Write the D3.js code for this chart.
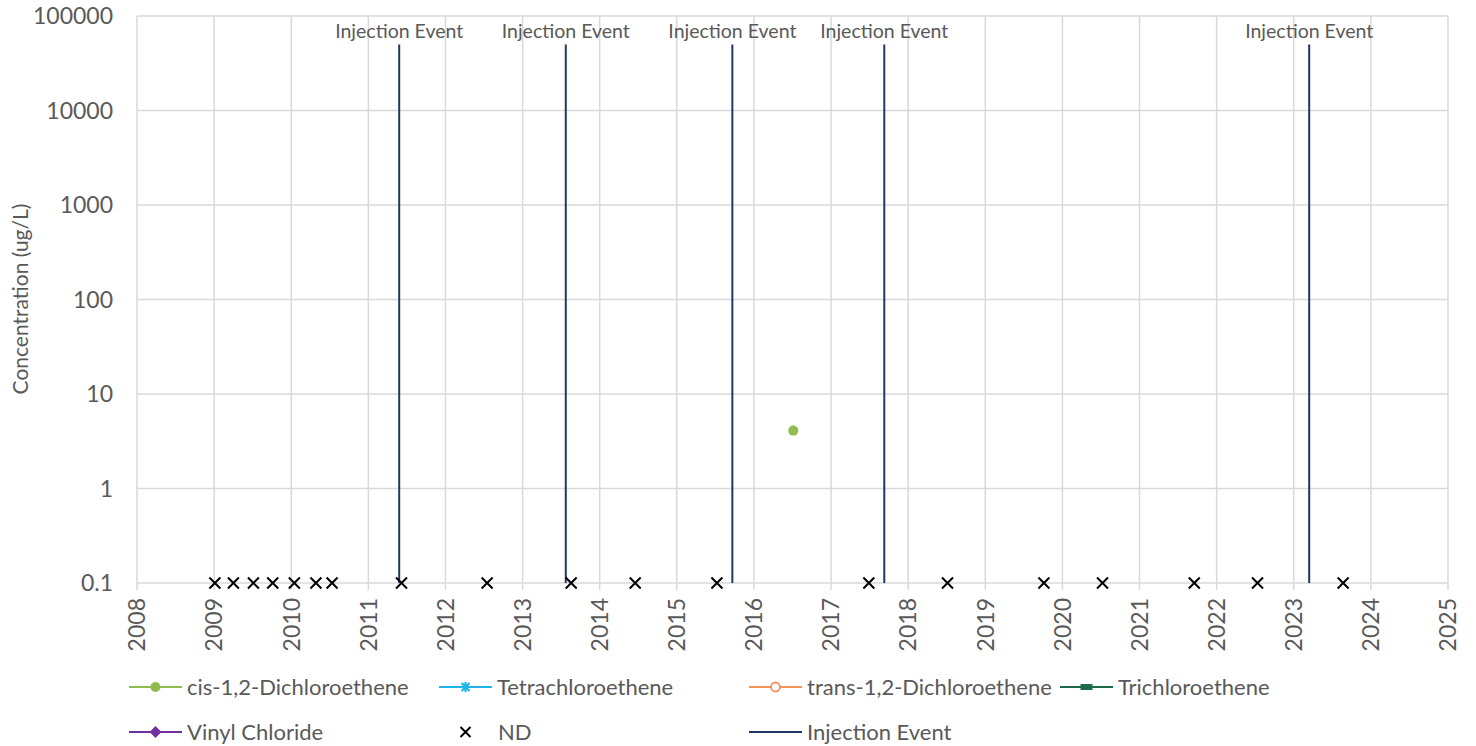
<!DOCTYPE html>
<html><head><meta charset="utf-8">
<script src="https://cdn.jsdelivr.net/npm/d3@7"></script>
<style>
body{margin:0;background:#fff;}
svg text{font-family:Lato,"Open Sans",sans-serif;fill:#595959;}
</style></head>
<body><svg id="c" width="1476" height="746"></svg>
<script>
const yearTicks = d3.range(2008, 2026);
const yTickValues = [0.1, 1, 10, 100, 1000, 10000, 100000];
const yTickLabels = ["0.1", "1", "10", "100", "1000", "10000", "100000"];

const cisDates = [2016.51];
const cisValues = [4.1];
const tetraDates = [], tetraValues = [];
const transDates = [], transValues = [];
const triDates = [], triValues = [];
const vinylDates = [], vinylValues = [];

const ndDates = [2009.01, 2009.25, 2009.51, 2009.76, 2010.04, 2010.32, 2010.53, 2011.43, 2012.54,
  2013.63, 2014.46, 2015.52, 2017.49, 2018.51, 2019.76, 2020.52, 2021.71, 2022.53, 2023.64];
const ndValues = ndDates.map(() => 0.1);

const injectionDates = [2011.40, 2013.56, 2015.72, 2017.69, 2023.20];
const injectionLow = 0.1, injectionHigh = 50000;
const injectionLabel = "Injection Event";

const legendItems = [
  {name: "cis-1,2-Dichloroethene", color: "#8fbc4f", marker: "circle"},
  {name: "Tetrachloroethene", color: "#1fb4ec", marker: "star"},
  {name: "trans-1,2-Dichloroethene", color: "#f7915a", marker: "ocircle"},
  {name: "Trichloroethene", color: "#1e6b4c", marker: "rect"},
  {name: "Vinyl Chloride", color: "#7030a0", marker: "diamond"},
  {name: "ND", color: "#000", marker: "x"},
  {name: "Injection Event", color: "#203864", marker: "none"}
];

const svg = d3.select("#c");
const L = 137, R = 1448, T = 16, B = 583;
const x = d3.scaleLinear().domain([2008, 2025]).range([L, R]);
const y = d3.scaleLog().domain([0.1, 100000]).range([B, T]);
const grid = "#d9d9d9";

// horizontal grid
svg.append("g").selectAll("line").data(yTickValues).join("line")
  .attr("x1", L).attr("x2", R).attr("y1", d => y(d)).attr("y2", d => y(d))
  .attr("stroke", grid).attr("stroke-width", 1.5);
// vertical grid + ticks
svg.append("g").selectAll("line").data(yearTicks).join("line")
  .attr("x1", d => x(d)).attr("x2", d => x(d)).attr("y1", T).attr("y2", B + 7)
  .attr("stroke", grid).attr("stroke-width", 1.5);

// y labels
svg.append("g").selectAll("text").data(yTickValues).join("text")
  .attr("x", 113).attr("y", d => y(d)).attr("dy", "0.36em")
  .attr("text-anchor", "end").attr("font-size", 23)
  .text((d, i) => yTickLabels[i]);
// x labels
svg.append("g").selectAll("text").data(yearTicks).join("text")
  .attr("transform", d => `translate(${x(d)},598) rotate(-90)`)
  .attr("dy", "0.36em").attr("text-anchor", "end").attr("font-size", 23)
  .text(d => d);
// y title
svg.append("text").attr("transform", `translate(20,299) rotate(-90)`)
  .attr("dy", "0.36em").attr("text-anchor", "middle").attr("font-size", 21)
  .text("Concentration (ug/L)");

// injection events
svg.append("g").selectAll("line").data(injectionDates).join("line")
  .attr("x1", d => x(d)).attr("x2", d => x(d))
  .attr("y1", y(injectionLow)).attr("y2", y(injectionHigh))
  .attr("stroke", "#203864").attr("stroke-width", 2);
svg.append("g").selectAll("text").data(injectionDates).join("text")
  .attr("x", d => x(d)).attr("y", 31).attr("dy", "0.36em")
  .attr("text-anchor", "middle").attr("font-size", 19.5)
  .text(injectionLabel);

// ND markers
const xs = 5.5;
svg.append("g").selectAll("path").data(ndDates).join("path")
  .attr("d", (d, i) => {
    const cx = x(d), cy = y(ndValues[i]);
    return `M${cx - xs},${cy - xs}L${cx + xs},${cy + xs}M${cx - xs},${cy + xs}L${cx + xs},${cy - xs}`;
  })
  .attr("stroke", "#000").attr("stroke-width", 2);

// cis points
svg.append("g").selectAll("circle").data(cisDates).join("circle")
  .attr("cx", d => x(d)).attr("cy", (d, i) => y(cisValues[i])).attr("r", 5)
  .attr("fill", "#8fbc4f");

// legend
const legX = [129, 439, 749, 1060, 129, 439, 749];
const legY = [687, 687, 687, 687, 732, 732, 732];
const lg = svg.append("g");
legendItems.forEach((it, i) => {
  const gx = legX[i], gy = legY[i];
  const g = lg.append("g").attr("transform", `translate(${gx},${gy})`);
  if (it.marker !== "x") {
    g.append("line").attr("x1", 0).attr("x2", 53).attr("y1", 0).attr("y2", 0)
      .attr("stroke", it.color).attr("stroke-width", 2);
  }
  const c = 26.5;
  if (it.marker === "circle") g.append("circle").attr("cx", c).attr("r", 5).attr("fill", it.color);
  if (it.marker === "ocircle") g.append("circle").attr("cx", c).attr("r", 4.5).attr("fill", "#fff").attr("stroke", it.color).attr("stroke-width", 1.8);
  if (it.marker === "rect") g.append("rect").attr("x", c - 6).attr("y", -3).attr("width", 12).attr("height", 6).attr("fill", it.color);
  if (it.marker === "diamond") g.append("path").attr("d", `M${c},-6L${c + 6},0L${c},6L${c - 6},0Z`).attr("fill", it.color);
  if (it.marker === "star") g.append("path").attr("d", `M${c - 4},-4L${c + 4},4M${c - 4},4L${c + 4},-4M${c},-5L${c},5`).attr("stroke", it.color).attr("stroke-width", 2.2);
  if (it.marker === "x") g.append("path").attr("d", `M${c - 5},-5L${c + 5},5M${c - 5},5L${c + 5},-5`).attr("stroke", "#000").attr("stroke-width", 2);
  g.append("text").attr("x", it.marker === "x" ? 59 : 58).attr("dy", "0.36em").attr("font-size", 22).text(it.name);
});
</script></body></html>
